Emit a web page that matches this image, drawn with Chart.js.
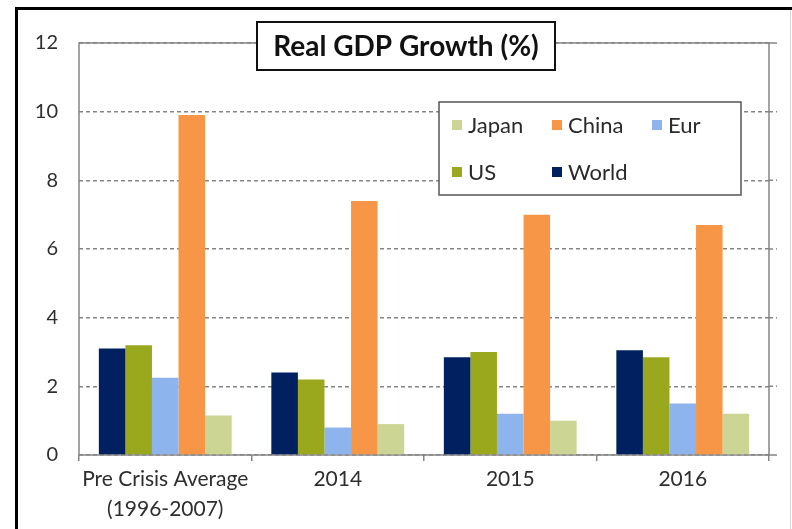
<!DOCTYPE html>
<html>
<head>
<meta charset="utf-8">
<script src="https://cdn.jsdelivr.net/npm/chart.js@4"></script>
<style>
  html, body { margin: 0; padding: 0; background: #fff; overflow: hidden; }
  #frame { position: absolute; left: 15px; top: 7px; width: 900px; height: 600px; border: 3px solid #000; }
  #edge { position: absolute; left: 790px; top: 10px; width: 1px; height: 530px; background: #d6d6d6; }
  #gdpChart { position: absolute; left: 0; top: 0; }
</style>
</head>
<body>
<div id="frame"></div>
<div id="edge"></div>
<canvas id="gdpChart" width="792" height="529"></canvas>
<script>
const categories = [['Pre Crisis Average', '(1996-2007)'], '2014', '2015', '2016'];
const seriesNames = ['World', 'US', 'Eur', 'China', 'Japan'];
const seriesColors = ['#002060', '#9aa81d', '#8db4ec', '#f79646', '#cdd595'];
const world = [3.1, 2.4, 2.85, 3.05];
const us = [3.2, 2.2, 3.0, 2.85];
const eur = [2.25, 0.8, 1.2, 1.5];
const china = [9.9, 7.4, 7.0, 6.7];
const japan = [1.15, 0.9, 1.0, 1.2];
const seriesValues = [world, us, eur, china, japan];

const fontFamily = 'Lato, "Open Sans", sans-serif';
const gridGrey = '#858585';

// plot frame (solid grey box) drawn under the bars, with the short
// overhang of the horizontal lines past the right edge
const plotFrame = {
  id: 'plotFrame',
  beforeDatasetsDraw(chart) {
    const { ctx, chartArea: a } = chart;
    const yScale = chart.scales.y;
    ctx.save();
    ctx.strokeStyle = gridGrey;
    ctx.lineWidth = 1.5;
    ctx.strokeRect(a.left, a.top, a.right - a.left, a.bottom - a.top);
    yScale.ticks.forEach((t, i) => {
      const y = yScale.getPixelForTick(i);
      const edge = i === 0 || i === yScale.ticks.length - 1;
      ctx.setLineDash(edge ? [] : [4, 3]);
      ctx.beginPath();
      ctx.moveTo(a.right, y);
      ctx.lineTo(a.right + 8, y);
      ctx.stroke();
    });
    ctx.restore();
  }
};

// boxed title and Excel-style legend box
const boxes = {
  id: 'boxes',
  afterDraw(chart) {
    const ctx = chart.ctx;
    ctx.save();
    // title box
    ctx.fillStyle = '#fff';
    ctx.fillRect(257, 22, 298, 48);
    ctx.strokeStyle = '#111';
    ctx.lineWidth = 2;
    ctx.strokeRect(257, 22, 298, 48);
    ctx.fillStyle = '#111';
    ctx.font = 'bold 28px ' + fontFamily;
    ctx.textAlign = 'center';
    ctx.textBaseline = 'middle';
    ctx.fillText('Real GDP Growth (%)', 406, 47);

    // legend box
    ctx.fillStyle = '#fff';
    ctx.fillRect(439, 102, 302, 93);
    ctx.strokeStyle = '#555';
    ctx.lineWidth = 1.5;
    ctx.strokeRect(439, 102, 302, 93);
    const items = chart.data.datasets.slice().reverse();
    ctx.font = '22px ' + fontFamily;
    ctx.textAlign = 'left';
    items.forEach((ds, i) => {
      const col = i % 3, row = Math.floor(i / 3);
      const x = 452 + col * 100, y = 125 + row * 47;
      ctx.fillStyle = ds.backgroundColor;
      ctx.fillRect(x, y - 5, 10, 10);
      ctx.fillStyle = '#2a2a2a';
      ctx.fillText(ds.label, x + 16, y + 1);
    });
    ctx.restore();
  }
};

new Chart(document.getElementById('gdpChart'), {
  type: 'bar',
  data: {
    labels: categories,
    datasets: seriesNames.map((name, i) => ({
      label: name,
      data: seriesValues[i],
      backgroundColor: seriesColors[i],
      borderWidth: 0,
      categoryPercentage: 0.77,
      barPercentage: 1.0
    }))
  },
  options: {
    responsive: false,
    devicePixelRatio: 1,
    animation: false,
    layout: { padding: { top: 43, right: 23, left: 0, bottom: 0 } },
    scales: {
      y: {
        min: 0,
        max: 12,
        ticks: { stepSize: 2, padding: 21, color: '#2e2e2e', font: { family: fontFamily, size: 20 } },
        grid: { color: gridGrey, lineWidth: 1.5, drawTicks: false },
        border: { display: false, dash: [4, 3] },
        afterFit(scale) { scale.width = 79; }
      },
      x: {
        ticks: { padding: 4, color: '#2e2e2e', font: { family: fontFamily, size: 21, lineHeight: 1.4 } },
        grid: { offset: true, drawOnChartArea: false, drawTicks: true, tickLength: 6, color: gridGrey, lineWidth: 1.5 },
        border: { display: false },
        afterFit(scale) { scale.height = 74; }
      }
    },
    plugins: {
      legend: { display: false },
      title: { display: false },
      tooltip: { enabled: false }
    }
  },
  plugins: [plotFrame, boxes]
});
</script>
</body>
</html>
